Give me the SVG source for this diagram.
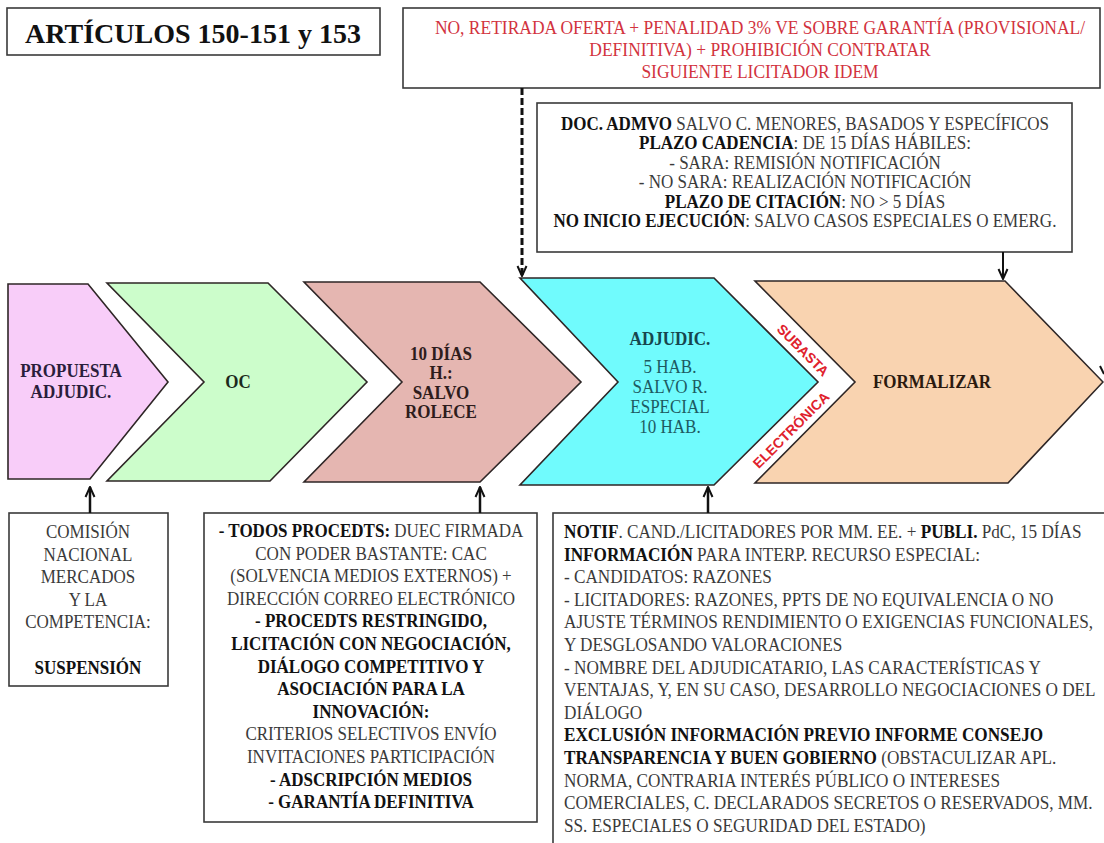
<svg xmlns="http://www.w3.org/2000/svg" width="1104" height="843" viewBox="0 0 1104 843">
<defs>
<marker id="arr" viewBox="0 0 12 12" refX="11" refY="6" markerWidth="12" markerHeight="12" markerUnits="userSpaceOnUse" orient="auto">
<path d="M1,1.5 L11,6 L1,10.5" fill="none" stroke="#111" stroke-width="2"/>
</marker>
</defs>
<style>
.box{fill:#fff;stroke:#3a3a3a;stroke-width:1.6}
.chev{stroke:#2e2626;stroke-width:1.6;stroke-linejoin:miter}
text{font-family:"Liberation Serif","Times New Roman",serif;}
.t{font-size:18.7px;fill:#3a3a3a}
.c{text-anchor:middle}
.b{font-weight:bold;fill:#111}
.red{fill:#d2333e;font-size:19.2px}
.r{font-size:18.9px}
.lbl{font-size:18.7px;font-weight:bold;text-anchor:middle}
.teal{fill:#1d5a61}
.rot{font-family:"Liberation Sans",Arial,sans-serif;font-size:14px;font-weight:bold;fill:#e0222d;text-anchor:middle}
.con{stroke:#111;fill:none}
</style>
<rect width="1104" height="843" fill="#fff"/>

<g id="title">
<rect class="box" x="7" y="8" width="373" height="47"/>
<text x="193" y="43" text-anchor="middle" font-size="28" font-weight="bold" fill="#111">ARTÍCULOS 150-151 y 153</text>
</g>

<g id="retirada">
<rect class="box" x="403" y="8" width="697" height="80"/>
<g transform="matrix(0.91 0 0 1 68.4 0)">
<text class="t c red" x="760" y="34">NO, RETIRADA OFERTA + PENALIDAD 3% VE SOBRE GARANTÍA (PROVISIONAL/</text>
<text class="t c red" x="760" y="56">DEFINITIVA) + PROHIBICIÓN CONTRATAR</text>
<text class="t c red" x="760" y="78">SIGUIENTE LICITADOR IDEM</text>
</g>
</g>

<g id="docadmvo">
<rect class="box" x="537" y="103" width="535" height="149"/>
<g transform="matrix(0.91 0 0 1 72.45 0)">
<text class="t c" x="805" y="130"><tspan class="b">DOC. ADMVO</tspan> SALVO C. MENORES, BASADOS Y ESPECÍFICOS</text>
<text class="t c" x="805" y="149.5"><tspan class="b">PLAZO CADENCIA</tspan>: DE 15 DÍAS HÁBILES:</text>
<text class="t c" x="805" y="169">- SARA: REMISIÓN NOTIFICACIÓN</text>
<text class="t c" x="805" y="188.5">- NO SARA: REALIZACIÓN NOTIFICACIÓN</text>
<text class="t c" x="805" y="208"><tspan class="b">PLAZO DE CITACIÓN</tspan>: NO &gt; 5 DÍAS</text>
<text class="t c" x="805" y="227.5"><tspan class="b">NO INICIO EJECUCIÓN</tspan>: SALVO CASOS ESPECIALES O EMERG.</text>
</g>
</g>

<g id="propuesta">
<polygon class="chev" fill="#f8cdf9" points="8,284 88,284 168,382 90,479 8,479"/>
<g transform="matrix(0.91 0 0 1 6.39 0)">
<text class="lbl" fill="#2b1e3c" x="71" y="377">PROPUESTA</text>
<text class="lbl" fill="#2b1e3c" x="71" y="398">ADJUDIC.</text>
</g>
</g>

<g id="oc">
<polygon class="chev" fill="#ccfdcb" points="107,283 268,283 367,382 270,481 107,481 204,382"/>
<g transform="matrix(0.91 0 0 1 21.42 0)">
<text class="lbl" fill="#1c2a1c" x="238" y="388">OC</text>
</g>
</g>

<g id="diez">
<polygon class="chev" fill="#e5b6b1" points="304,282 480,282 581,382 480,482 304,482 402,382"/>
<g transform="matrix(0.91 0 0 1 39.69 0)">
<text class="lbl" fill="#2e1c1c" x="441" y="360">10 DÍAS</text>
<text class="lbl" fill="#2e1c1c" x="441" y="379">H.:</text>
<text class="lbl" fill="#2e1c1c" x="441" y="399">SALVO</text>
<text class="lbl" fill="#2e1c1c" x="441" y="418">ROLECE</text>
</g>
</g>

<g id="adjudic">
<polygon class="chev" fill="#70fbfd" points="520,278 714,278 818,382 714,485 520,485 618,382"/>
<g transform="matrix(0.91 0 0 1 60.3 0)">
<text class="lbl" fill="#17464e" x="670" y="345">ADJUDIC.</text>
<text class="t c teal" x="670" y="373">5 HAB.</text>
<text class="t c teal" x="670" y="393">SALVO R.</text>
<text class="t c teal" x="670" y="413">ESPECIAL</text>
<text class="t c teal" x="670" y="433">10 HAB.</text>
</g>
</g>

<g id="subasta">
<text class="rot" transform="translate(803,350) rotate(45)" x="0" y="5">SUBASTA</text>
<text class="rot" transform="translate(791,430) rotate(-45)" x="0" y="5">ELECTRÓNICA</text>
</g>

<g id="formalizar">
<polygon class="chev" fill="#f9d3b0" points="755,281 1005,281 1103,382 1008,483 755,483 855,382"/>
<g transform="matrix(0.91 0 0 1 83.88 0)">
<text class="lbl" fill="#2b1a0f" x="932" y="388">FORMALIZAR</text>
</g>
</g>

<g id="cnmc">
<rect class="box" x="9" y="513" width="159" height="173"/>
<g transform="matrix(0.91 0 0 1 7.92 0)">
<text class="t c" x="88" y="538">COMISIÓN</text>
<text class="t c" x="88" y="560.6">NACIONAL</text>
<text class="t c" x="88" y="583.2">MERCADOS</text>
<text class="t c" x="88" y="605.8">Y LA</text>
<text class="t c" x="88" y="628.4">COMPETENCIA:</text>
<text class="t c b" x="88" y="673.6">SUSPENSIÓN</text>
</g>
</g>

<g id="requisitos">
<rect class="box" x="204" y="513" width="333" height="309"/>
<g transform="matrix(0.91 0 0 1 33.39 0)">
<text class="t c" x="371" y="537"><tspan class="b">- TODOS PROCEDTS:</tspan> DUEC FIRMADA</text>
<text class="t c" x="371" y="559.6">CON PODER BASTANTE: CAC</text>
<text class="t c" x="371" y="582.2">(SOLVENCIA MEDIOS EXTERNOS) +</text>
<text class="t c" x="371" y="604.8">DIRECCIÓN CORREO ELECTRÓNICO</text>
<text class="t c b" x="371" y="627.4">- PROCEDTS RESTRINGIDO,</text>
<text class="t c b" x="371" y="650">LICITACIÓN CON NEGOCIACIÓN,</text>
<text class="t c b" x="371" y="672.6">DIÁLOGO COMPETITIVO Y</text>
<text class="t c b" x="371" y="695.2">ASOCIACIÓN PARA LA</text>
<text class="t c b" x="371" y="717.8">INNOVACIÓN:</text>
<text class="t c" x="371" y="740.4">CRITERIOS SELECTIVOS ENVÍO</text>
<text class="t c" x="371" y="763">INVITACIONES PARTICIPACIÓN</text>
<text class="t c b" x="371" y="785.6">- ADSCRIPCIÓN MEDIOS</text>
<text class="t c b" x="371" y="808.2">- GARANTÍA DEFINITIVA</text>
</g>
</g>

<g id="notif">
<rect class="box" x="553" y="513" width="580" height="350"/>
<g transform="matrix(0.91 0 0 1 50.76 0)">
<text class="t r" x="564" y="538"><tspan class="b">NOTIF</tspan>. CAND./LICITADORES POR MM. EE. + <tspan class="b">PUBLI.</tspan> PdC, 15 DÍAS</text>
<text class="t r" x="564" y="560.6"><tspan class="b">INFORMACIÓN</tspan> PARA INTERP. RECURSO ESPECIAL:</text>
<text class="t r" x="564" y="583.2">- CANDIDATOS: RAZONES</text>
<text class="t r" x="564" y="605.8">- LICITADORES: RAZONES, PPTS DE NO EQUIVALENCIA O NO</text>
<text class="t r" x="564" y="628.4">AJUSTE TÉRMINOS RENDIMIENTO O EXIGENCIAS FUNCIONALES,</text>
<text class="t r" x="564" y="651">Y DESGLOSANDO VALORACIONES</text>
<text class="t r" x="564" y="673.6">- NOMBRE DEL ADJUDICATARIO, LAS CARACTERÍSTICAS Y</text>
<text class="t r" x="564" y="696.2">VENTAJAS, Y, EN SU CASO, DESARROLLO NEGOCIACIONES O DEL</text>
<text class="t r" x="564" y="718.8">DIÁLOGO</text>
<text class="t r b" x="564" y="741.4">EXCLUSIÓN INFORMACIÓN PREVIO INFORME CONSEJO</text>
<text class="t r" x="564" y="764"><tspan class="b">TRANSPARENCIA Y BUEN GOBIERNO</tspan> (OBSTACULIZAR APL.</text>
<text class="t r" x="564" y="786.6">NORMA, CONTRARIA INTERÉS PÚBLICO O INTERESES</text>
<text class="t r" x="564" y="809.2">COMERCIALES, C. DECLARADOS SECRETOS O RESERVADOS, MM.</text>
<text class="t r" x="564" y="831.8">SS. ESPECIALES O SEGURIDAD DEL ESTADO)</text>
</g>
</g>

<g id="connectors">
<line class="con" x1="522" y1="88" x2="522" y2="276" stroke-width="3" stroke-dasharray="7 3" marker-end="url(#arr)"/>
<line class="con" x1="1003" y1="252" x2="1003" y2="279" stroke-width="2" marker-end="url(#arr)"/>
<line class="con" x1="90" y1="513" x2="90" y2="487" stroke-width="2.5" marker-end="url(#arr)"/>
<line class="con" x1="480" y1="513" x2="480" y2="487" stroke-width="2.5" marker-end="url(#arr)"/>
<line class="con" x1="708" y1="513" x2="708" y2="487" stroke-width="2.5" marker-end="url(#arr)"/>
<line class="con" x1="1100" y1="366" x2="1104" y2="374" stroke-width="2"/>
</g>
</svg>
